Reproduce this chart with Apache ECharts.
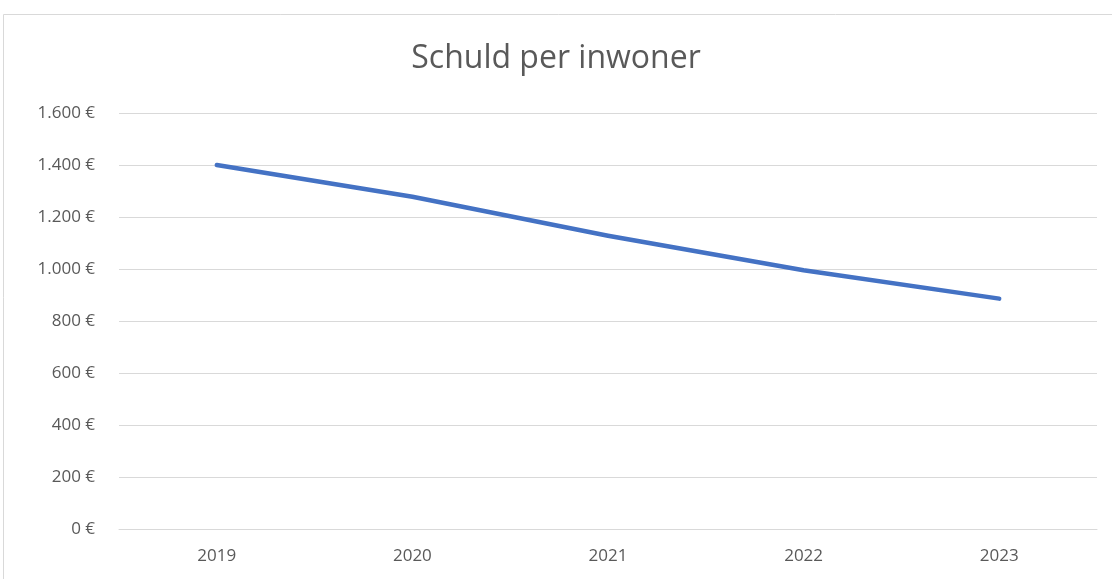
<!DOCTYPE html>
<html lang="nl">
<head>
    <meta charset="UTF-8" />
    <title>Schuld per inwoner</title>
    <script src="https://cdn.jsdelivr.net/npm/echarts@6/dist/echarts.min.js"></script>
    <style>
        html, body { margin: 0; padding: 0; background: #fff; }
        #main { width: 1112px; height: 579px; }
    </style>
</head>
<body>
    <div id="main"></div>
<script type="text/javascript">
    var years = ['2019', '2020', '2021', '2022', '2023'];
    var debtPerResident = [1400, 1278, 1128, 995, 886];
    var yTicks = { min: 0, max: 1600, step: 200 };

    var chart = echarts.init(document.getElementById('main'));
    chart.setOption({
        animation: false,
        textStyle: { fontFamily: 'Open Sans, Liberation Sans, sans-serif' },
        title: {
            text: 'Schuld per inwoner',
            left: 'center',
            top: 38,
            textStyle: {
                color: '#595959',
                fontSize: 32,
                fontWeight: 'normal',
                fontFamily: 'Open Sans, sans-serif'
            }
        },
        graphic: [{
            type: 'rect',
            shape: { x: 3.5, y: 14.5, width: 1200, height: 700 },
            style: { fill: 'none', stroke: '#d9d9d9', lineWidth: 1 },
            silent: true
        }],
        grid: { left: 119, right: 15, top: 113, bottom: 50 },
        xAxis: {
            type: 'category',
            data: years,
            boundaryGap: true,
            axisLine: { show: true, lineStyle: { color: '#d9d9d9', width: 1 } },
            axisTick: { show: false },
            axisLabel: { color: '#595959', fontSize: 17, margin: 19 }
        },
        yAxis: {
            type: 'value',
            min: yTicks.min,
            max: yTicks.max,
            interval: yTicks.step,
            axisLine: { show: false },
            axisTick: { show: false },
            splitLine: { lineStyle: { color: '#d9d9d9', width: 1 } },
            axisLabel: {
                color: '#595959',
                fontSize: 17,
                margin: 24,
                formatter: function (v) {
                    return v.toString().replace(/\B(?=(\d{3})+(?!\d))/g, '.') + ' €';
                }
            }
        },
        series: [{
            name: 'Schuld per inwoner',
            type: 'line',
            data: debtPerResident,
            showSymbol: false,
            smooth: false,
            lineStyle: { color: '#4472C4', width: 4.5, cap: 'round', join: 'round' },
            itemStyle: { color: '#4472C4' }
        }]
    });
</script>
</body>
</html>
